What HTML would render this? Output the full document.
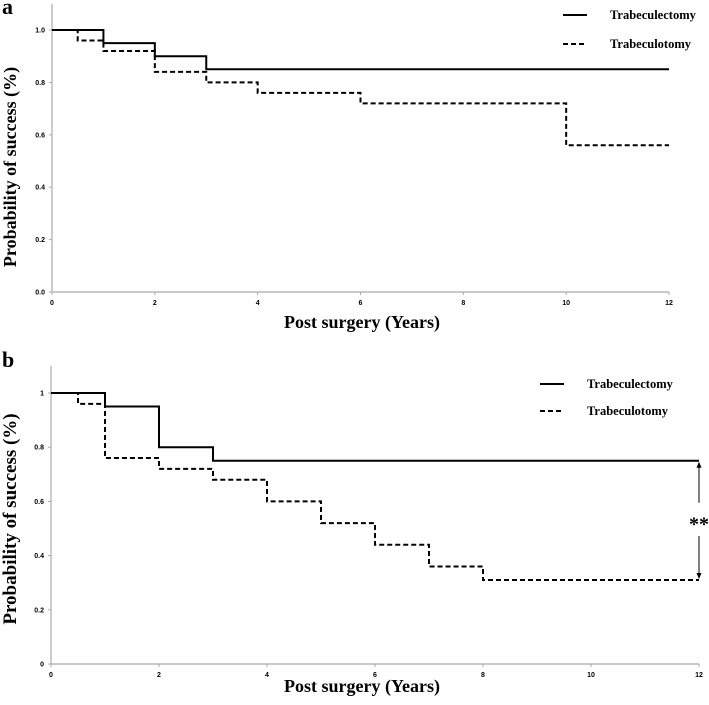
<!DOCTYPE html>
<html><head><meta charset="utf-8"><style>
html,body{margin:0;padding:0;background:#fff;}
svg{display:block;}
.tk{font-family:"Liberation Sans",sans-serif;font-weight:bold;font-size:7px;fill:#000;}
.ttl{font-family:"Liberation Serif",serif;font-weight:bold;fill:#000;}
</style></head><body>
<svg id="c" width="709" height="705" viewBox="0 0 709 705" xmlns="http://www.w3.org/2000/svg"></svg>
<script>
// Panel a data
const aSolidT = [0, 1, 2, 3, 12];
const aSolidS = [1.0, 0.95, 0.90, 0.85, 0.85];
const aDashT = [0, 0.5, 1, 2, 3, 4, 6, 10, 12];
const aDashS = [1.0, 0.96, 0.92, 0.84, 0.80, 0.76, 0.72, 0.56, 0.56];
const aYTicks = ["0.0","0.2","0.4","0.6","0.8","1.0"];
// Panel b data
const bSolidT = [0, 1, 2, 3, 12];
const bSolidS = [1.0, 0.95, 0.80, 0.75, 0.75];
const bDashT = [0, 0.5, 1, 2, 3, 4, 5, 6, 7, 8, 12];
const bDashS = [1.0, 0.96, 0.76, 0.72, 0.68, 0.60, 0.52, 0.44, 0.36, 0.31, 0.31];
const bYTicks = ["0","0.2","0.4","0.6","0.8","1"];
const xTicks = [0, 2, 4, 6, 8, 10, 12];

const svg = document.getElementById('c');
const NS = 'http://www.w3.org/2000/svg';
function mk(tag, attrs, parent){const e=document.createElementNS(NS,tag);for(const k in attrs)e.setAttribute(k,attrs[k]);(parent||svg).appendChild(e);return e;}

function panel(p){
  const g = mk('g',{});
  
  
  const sx = t => p.x0 + t*(p.x12-p.x0)/12;
  const sy = v => p.y0 - v*(p.y0-p.y1)/1.0;
  const ya = mk('line',{x1:p.x0,y1:sy(1.1),x2:p.x0,y2:p.y0,stroke:'#aaa','stroke-width':1.2},g);
   
  const xa = mk('line',{x1:p.x0,y1:p.y0,x2:p.x12,y2:p.y0,stroke:'#aaa','stroke-width':1.2},g);
   
  p.yt.forEach((lab,i)=>{
    const v=i*0.2;
    mk('line',{x1:p.x0-3,y1:sy(v),x2:p.x0,y2:sy(v),stroke:'#aaa'},g);
    const t=mk('text',{x:p.x0-7,y:sy(v)+2.5,'text-anchor':'end',class:'tk'},g);
    t.textContent=lab;
     
  });
  xTicks.forEach(x=>{
    mk('line',{x1:sx(x),y1:p.y0,x2:sx(x),y2:p.y0+3,stroke:'#aaa'},g);
    const t=mk('text',{x:sx(x),y:p.y0+13,'text-anchor':'middle',class:'tk'},g);
    t.textContent=x;
     
  });
  function step(T,S,dash,nm){
    let d='M'+sx(T[0])+','+sy(S[0]);
    for(let i=1;i<T.length;i++){d+=' H'+sx(T[i])+' V'+sy(S[i]);}
    const e=mk('path',{d:d,fill:'none',stroke:'#000','stroke-width':2,'stroke-dasharray':dash?'5,3':'none'},g);
     
  }
  step(p.sT,p.sS,false,'trabeculectomy-line');
  step(p.dT,p.dS,true,'trabeculotomy-line');
  const l1=mk('line',{x1:p.lx,y1:p.ly1,x2:p.lx+24,y2:p.ly1,stroke:'#000','stroke-width':2},g);
   
  const t1=mk('text',{x:p.tx,y:p.ly1+4,class:'ttl','font-size':12.5},g); t1.textContent='Trabeculectomy';
   
  const l2=mk('line',{x1:p.lx,y1:p.ly2,x2:p.lx+24,y2:p.ly2,stroke:'#000','stroke-width':2,'stroke-dasharray':'5,3'},g);
   
  const t2=mk('text',{x:p.tx,y:p.ly2+4,class:'ttl','font-size':12.5},g); t2.textContent='Trabeculotomy';
   
  const xt=mk('text',{x:p.xtx,y:p.xty,'text-anchor':'middle',class:'ttl','font-size':18},g); xt.textContent='Post surgery (Years)';
   
  const yt=mk('text',{x:0,y:0,'text-anchor':'middle',class:'ttl','font-size':p.yfs,transform:'translate(16,'+p.yc+') rotate(-90)'},g); yt.textContent='Probability of success (%)';
   
  const pl=mk('text',{x:2,y:p.ply,class:'ttl','font-size':22},g); pl.textContent=p.label;
   
  return {sx,sy,g};
}

panel({name:'panel-a',label:'a',ply:14,x0:52,x12:669,y0:292,y1:30,yt:aYTicks,sT:aSolidT,sS:aSolidS,dT:aDashT,dS:aDashS,lx:563,tx:610,ly1:15,ly2:44,xtx:362,xty:328,yc:167,yfs:18});
const pb=panel({name:'panel-b',label:'b',ply:367,x0:51,x12:699,y0:664,y1:393,yt:bYTicks,sT:bSolidT,sS:bSolidS,dT:bDashT,dS:bDashS,lx:540,tx:587,ly1:384,ly2:411,xtx:362,xty:692,yc:519,yfs:19});

const ax=pb.sx(12), yTop=pb.sy(bSolidS[bSolidS.length-1]), yBot=pb.sy(bDashS[bDashS.length-1]);
const ar=mk('g',{});
 
mk('line',{x1:ax,y1:yTop+3,x2:ax,y2:yTop+42,stroke:'#000','stroke-width':1},ar);
mk('polygon',{points:(ax-2.5)+','+(yTop+7)+' '+(ax+2.5)+','+(yTop+7)+' '+ax+','+(yTop+1),fill:'#000'},ar);
mk('line',{x1:ax,y1:yBot-44,x2:ax,y2:yBot-3,stroke:'#000','stroke-width':1},ar);
mk('polygon',{points:(ax-2.5)+','+(yBot-7)+' '+(ax+2.5)+','+(yBot-7)+' '+ax+','+(yBot-1),fill:'#000'},ar);
const st=mk('text',{x:ax,y:(yTop+yBot)/2+10,'text-anchor':'middle',class:'ttl','font-size':20},ar); st.textContent='**';
 
</script>
</body></html>
